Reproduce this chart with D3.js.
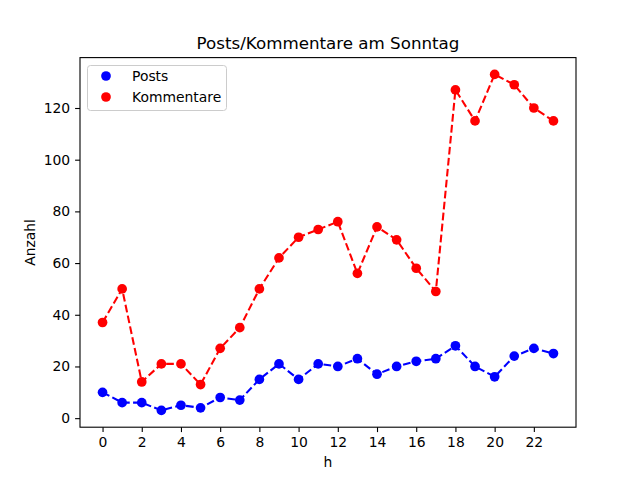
<!DOCTYPE html>
<html>
<head>
<meta charset="utf-8">
<script src="https://cdn.jsdelivr.net/npm/d3@7"></script>
<style>
  body { margin: 0; background: #fff; }
  text { font-family: "DejaVu Sans", sans-serif; }
</style>
</head>
<body>
<div id="chart"></div>
<script>
// hours of the day
var hours = d3.range(0, 24);
// posts per hour
var posts = [10, 6, 6, 3, 5, 4, 8, 7, 15, 21, 15, 21, 20, 23, 17, 20, 22, 23, 28, 20, 16, 24, 27, 25];
// comments per hour
var kommentare = [37, 50, 14, 21, 21, 13, 27, 35, 50, 62, 70, 73, 76, 56, 74, 69, 58, 49, 127, 115, 133, 129, 120, 115];
var xTicks = [0, 2, 4, 6, 8, 10, 12, 14, 16, 18, 20, 22];
var yTicks = [0, 20, 40, 60, 80, 100, 120];

var series = [
  { label: "Posts", color: "blue", values: posts },
  { label: "Kommentare", color: "red", values: kommentare }
];

var width = 640;
var height = 480;
var margin = { top: 57.6, right: 64, bottom: 52.8, left: 80 };
var markerR = 4.85;

var svg = d3
  .select("#chart")
  .append("svg")
  .attr("width", width)
  .attr("height", height);

// matplotlib style 5% padding around the data
var yMin = d3.min(posts.concat(kommentare));
var yMax = d3.max(posts.concat(kommentare));
var yPad = (yMax - yMin) * 0.05;
var xPad = (d3.max(hours) - d3.min(hours)) * 0.05;

var xScale = d3.scaleLinear()
  .domain([d3.min(hours) - xPad, d3.max(hours) + xPad])
  .range([margin.left, width - margin.right]);

var yScale = d3.scaleLinear()
  .domain([yMin - yPad, yMax + yPad])
  .range([height - margin.bottom, margin.top]);

// axes
var xAxis = d3.axisBottom(xScale).tickValues(xTicks).tickSize(4.9).tickPadding(4.9);
var yAxis = d3.axisLeft(yScale).tickValues(yTicks).tickSize(4.9).tickPadding(4.9);

var gx = svg.append("g")
  .attr("transform", "translate(0," + (height - margin.bottom) + ")")
  .call(xAxis);
var gy = svg.append("g")
  .attr("transform", "translate(" + margin.left + ",0)")
  .call(yAxis);

[gx, gy].forEach(function(g) {
  g.select(".domain").remove();
  g.selectAll(".tick line").attr("stroke", "#000").attr("stroke-width", 1.1);
  g.selectAll(".tick text")
    .attr("fill", "#000")
    .style("font-size", "13.9px")
    .style("font-family", "DejaVu Sans");
});

// the lines and markers
var line = d3.line()
  .x(function(d, i) { return xScale(hours[i]); })
  .y(function(d) { return yScale(d); });

var plot = svg.append("g");
series.forEach(function(s) {
  plot.append("path")
    .datum(s.values)
    .attr("d", line)
    .attr("fill", "none")
    .attr("stroke", s.color)
    .attr("stroke-width", 2.08)
    .attr("stroke-dasharray", "7.7,3.33");

  plot.selectAll(null)
    .data(s.values)
    .enter()
    .append("circle")
    .attr("cx", function(d, i) { return xScale(hours[i]); })
    .attr("cy", function(d) { return yScale(d); })
    .attr("r", markerR)
    .attr("fill", s.color);
});

// frame
svg.append("rect")
  .attr("x", margin.left)
  .attr("y", margin.top)
  .attr("width", width - margin.left - margin.right)
  .attr("height", height - margin.top - margin.bottom)
  .attr("fill", "none")
  .attr("stroke", "#000")
  .attr("stroke-width", 1.1);

// title and axis labels
svg.append("text")
  .attr("x", (margin.left + width - margin.right) / 2)
  .attr("y", 49)
  .attr("text-anchor", "middle")
  .style("font-size", "16.7px")
  .text("Posts/Kommentare am Sonntag");

svg.append("text")
  .attr("x", (margin.left + width - margin.right) / 2)
  .attr("y", 467)
  .attr("text-anchor", "middle")
  .style("font-size", "13.9px")
  .text("h");

svg.append("text")
  .attr("transform", "translate(35," + ((margin.top + height - margin.bottom) / 2) + ") rotate(-90)")
  .attr("text-anchor", "middle")
  .style("font-size", "13.9px")
  .text("Anzahl");

// legend
var legend = svg.append("g").attr("class", "legend");
legend.append("rect")
  .attr("x", 87.5)
  .attr("y", 65.5)
  .attr("width", 139)
  .attr("height", 45)
  .attr("rx", 3)
  .attr("fill", "#fff")
  .attr("fill-opacity", 0.8)
  .attr("stroke", "#ccc");

var items = legend.selectAll("g.item")
  .data(series)
  .enter()
  .append("g")
  .attr("class", "item")
  .attr("transform", function(d, i) {
    return "translate(0," + (76 + i * 21) + ")";
  });

items.append("circle")
  .attr("cx", 106)
  .attr("cy", 0)
  .attr("r", markerR)
  .attr("fill", function(d) { return d.color; });

items.append("text")
  .attr("x", 132)
  .attr("y", 5)
  .style("font-size", "13.9px")
  .text(function(d) { return d.label; });
</script>
</body>
</html>
